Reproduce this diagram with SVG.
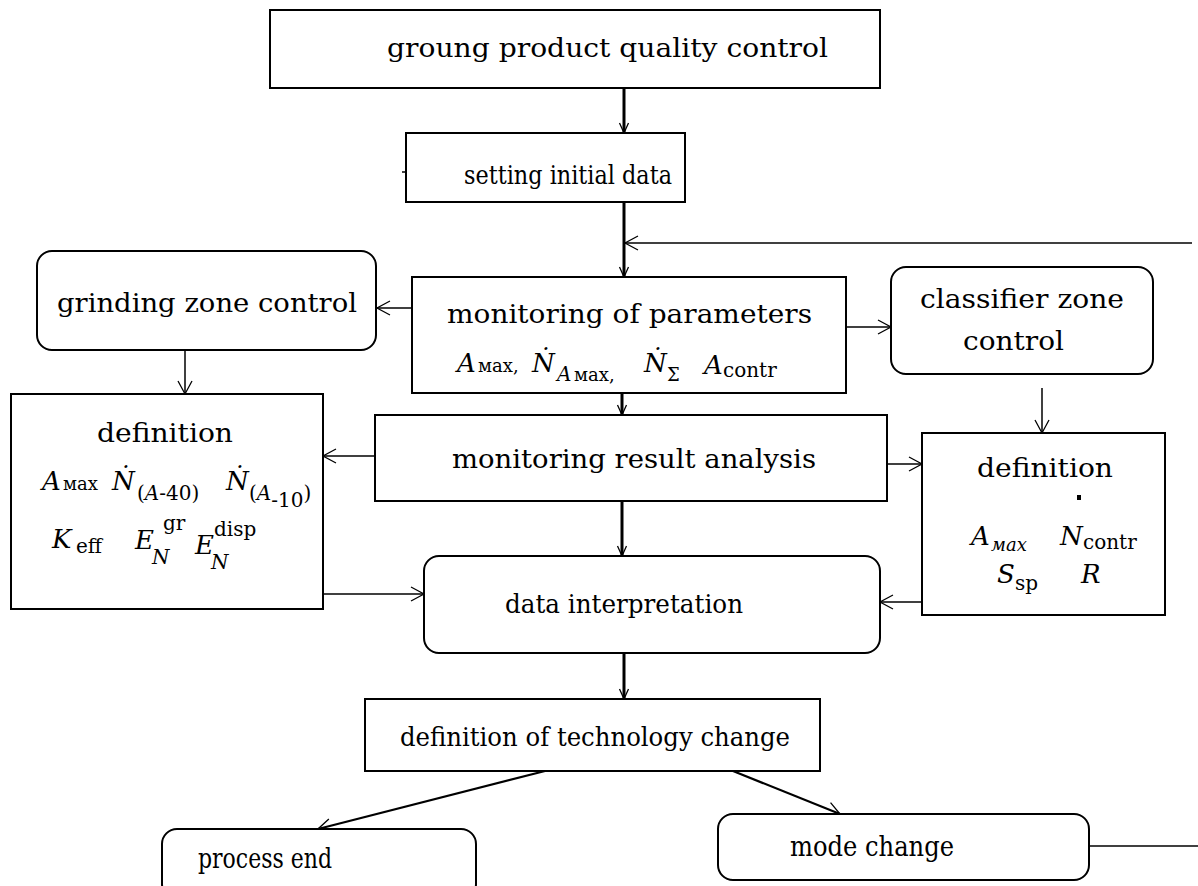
<svg xmlns="http://www.w3.org/2000/svg" width="1198" height="886" viewBox="0 0 1198 886" font-family="'DejaVu Serif', 'Liberation Serif', serif">
<defs>
<style>
text{font-family:'DejaVu Serif','Liberation Serif',serif;fill:#000}
.box{fill:#fff;stroke:#000;stroke-width:2}
.t{font-size:26px}
.b{font-size:28px}
.m{font-size:26px}
.s{font-size:20px}
.n{font-size:20px}
.i{font-style:italic}
.c{fill:none;stroke:#000;stroke-width:1.5}
.k{fill:none;stroke:#000;stroke-width:3}
.d{fill:none;stroke:#000;stroke-width:2.2}
</style>
<marker id="a" markerUnits="userSpaceOnUse" markerWidth="16" markerHeight="18" refX="14" refY="9" orient="auto"><path d="M1,2 L14,9 L1,16" fill="none" stroke="#000" stroke-width="1.3"/></marker>
<marker id="b" markerUnits="userSpaceOnUse" markerWidth="14" markerHeight="12" refX="12" refY="6" orient="auto"><path d="M2,1.5 L12,6 L2,10.5" fill="none" stroke="#000" stroke-width="1.3"/></marker>
</defs>
<rect width="1198" height="886" fill="#fff"/>

<g id="connectors">
<line class="k" x1="624" y1="88" x2="624" y2="133" marker-end="url(#b)"/>
<line class="k" x1="624" y1="202" x2="624" y2="277" marker-end="url(#b)"/>
<line class="c" x1="1192" y1="243" x2="625" y2="243" marker-end="url(#a)"/>
<line class="c" x1="412" y1="308" x2="377" y2="308" marker-end="url(#a)"/>
<line class="c" x1="185" y1="350" x2="185" y2="394" marker-end="url(#a)"/>
<line class="c" x1="846" y1="327" x2="891" y2="327" marker-end="url(#a)"/>
<line class="c" x1="1042" y1="388" x2="1042" y2="433" marker-end="url(#a)"/>
<line class="k" x1="622" y1="393" x2="622" y2="415" marker-end="url(#b)"/>
<line class="c" x1="375" y1="456" x2="323" y2="456" marker-end="url(#a)"/>
<line class="c" x1="887" y1="464" x2="922" y2="464" marker-end="url(#a)"/>
<line class="k" x1="622" y1="501" x2="622" y2="556" marker-end="url(#b)"/>
<line class="c" x1="323" y1="594" x2="424" y2="594" marker-end="url(#a)"/>
<line class="c" x1="922" y1="602" x2="880" y2="602" marker-end="url(#a)"/>
<line class="k" x1="624" y1="653" x2="624" y2="699" marker-end="url(#b)"/>
<line class="d" x1="545" y1="771" x2="318" y2="829" marker-end="url(#a)"/>
<line class="d" x1="733" y1="771" x2="840" y2="814" marker-end="url(#a)"/>
<line class="c" x1="1090" y1="846" x2="1198" y2="846"/>
</g>

<g id="n1">
<rect class="box" x="270" y="10" width="610" height="78"/>
<text class="t" x="387" y="57" textLength="441" lengthAdjust="spacingAndGlyphs">groung product quality control</text>
</g>

<g id="n2">
<rect class="box" x="406" y="133" width="279" height="69"/>
<line class="c" x1="402" y1="172" x2="406" y2="172"/>
<text class="t" x="464" y="184" textLength="208" lengthAdjust="spacingAndGlyphs">setting initial data</text>
</g>

<g id="n3">
<rect class="box" x="412" y="277" width="434" height="116"/>
<text class="t" x="447" y="323" textLength="365" lengthAdjust="spacingAndGlyphs">monitoring of parameters</text>
<text class="m" y="372"><tspan class="i" x="457">A</tspan><tspan x="478" font-size="18">мах,</tspan><tspan class="i" x="532">Ṅ</tspan><tspan class="i" x="557" y="381" font-size="20">A</tspan><tspan x="574" y="381" font-size="18">мах,</tspan><tspan class="i" x="644" y="372">Ṅ</tspan><tspan x="667" y="381" font-size="18">Σ</tspan><tspan class="i" x="704" y="374">A</tspan><tspan x="723" y="377" font-size="20">contr</tspan></text>
</g>

<g id="n4">
<rect class="box" x="37" y="251" width="339" height="99" rx="15"/>
<text class="t" x="57" y="312" textLength="300" lengthAdjust="spacingAndGlyphs">grinding zone control</text>
</g>

<g id="n5">
<rect class="box" x="891" y="267" width="262" height="107" rx="15"/>
<text class="t" x="920" y="308" textLength="204" lengthAdjust="spacingAndGlyphs">classifier zone</text>
<text class="t" x="963" y="350" textLength="101" lengthAdjust="spacingAndGlyphs">control</text>
</g>

<g id="n6">
<rect class="box" x="11" y="394" width="312" height="215"/>
<text class="t" x="97" y="442" textLength="136" lengthAdjust="spacingAndGlyphs">definition</text>
<text class="m" y="490"><tspan class="i" x="42">A</tspan><tspan x="63" font-size="18">мах</tspan><tspan class="i" x="112">Ṅ</tspan><tspan x="137" y="500" font-size="20">(</tspan><tspan class="i" font-size="20">A</tspan><tspan font-size="20">-40)</tspan></text>
<text class="m" y="490"><tspan class="i" x="226">Ṅ</tspan><tspan x="249" y="500" font-size="20">(</tspan><tspan class="i" font-size="20">A</tspan><tspan y="507" font-size="20">-10</tspan><tspan y="500" font-size="20">)</tspan></text>
<text class="m" y="548"><tspan class="i" x="52">K</tspan><tspan x="76" y="553" font-size="20">eff</tspan></text>
<text class="m i" x="135" y="549">E</text>
<text class="n i" x="152" y="564">N</text>
<text class="s" x="163" y="530">gr</text>
<text class="m i" x="195" y="554">E</text>
<text class="n i" x="211" y="569">N</text>
<text class="s" x="214" y="536">disp</text>
</g>

<g id="n7">
<rect class="box" x="375" y="415" width="512" height="86"/>
<text class="t" x="452" y="468" textLength="364" lengthAdjust="spacingAndGlyphs">monitoring result analysis</text>
</g>

<g id="n8">
<rect class="box" x="922" y="433" width="243" height="182"/>
<text class="t" x="977" y="477" textLength="136" lengthAdjust="spacingAndGlyphs">definition</text>
<rect x="1077" y="495" width="4" height="5" fill="#000"/>
<text class="m" y="545"><tspan class="i" x="971">A</tspan><tspan class="i" x="991" y="551" font-size="18">мах</tspan><tspan class="i" x="1060" y="545">N</tspan><tspan x="1083" y="549" font-size="20">contr</tspan></text>
<text class="m" y="583"><tspan class="i" x="997">S</tspan><tspan x="1015" y="590" font-size="20">sp</tspan><tspan class="i" x="1081" y="583">R</tspan></text>
</g>

<g id="n9">
<rect class="box" x="424" y="556" width="456" height="97" rx="15"/>
<text class="t" x="505" y="613" textLength="238" lengthAdjust="spacingAndGlyphs">data interpretation</text>
</g>

<g id="n10">
<rect class="box" x="365" y="699" width="455" height="72"/>
<text class="t" x="400" y="746" textLength="390" lengthAdjust="spacingAndGlyphs">definition of technology change</text>
</g>

<g id="n11">
<rect class="box" x="162" y="829" width="314" height="70" rx="15"/>
<text class="b" x="198" y="868" textLength="134" lengthAdjust="spacingAndGlyphs">process end</text>
</g>

<g id="n12">
<rect class="box" x="718" y="814" width="371" height="66" rx="15"/>
<text class="b" x="790" y="856" textLength="164" lengthAdjust="spacingAndGlyphs">mode change</text>
</g>
</svg>
